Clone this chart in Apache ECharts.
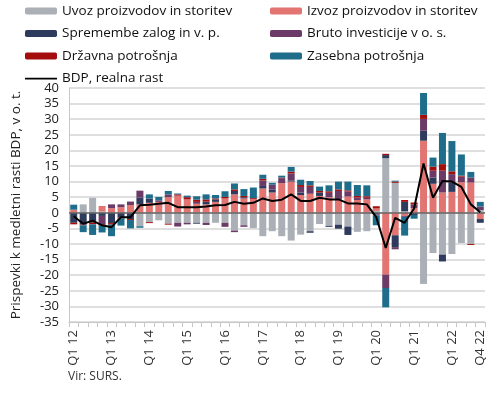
<!DOCTYPE html>
<html><head><meta charset="utf-8">
<script src="https://cdn.jsdelivr.net/npm/echarts@6/dist/echarts.min.js"></script>
<style>html,body{margin:0;padding:0;background:#fff}#c{width:490px;height:394px}</style>
</head><body><div id="c"></div>
<script>
var categories = ["Q1 12","Q2 12","Q3 12","Q4 12","Q1 13","Q2 13","Q3 13","Q4 13","Q1 14","Q2 14","Q3 14","Q4 14",
"Q1 15","Q2 15","Q3 15","Q4 15","Q1 16","Q2 16","Q3 16","Q4 16","Q1 17","Q2 17","Q3 17","Q4 17",
"Q1 18","Q2 18","Q3 18","Q4 18","Q1 19","Q2 19","Q3 19","Q4 19","Q1 20","Q2 20","Q3 20","Q4 20",
"Q1 21","Q2 21","Q3 21","Q4 21","Q1 22","Q2 22","Q3 22","Q4 22"];
var uvoz = [0,2.7,4.8,0.4,0,0,0,-4.3,-3.0,-2.4,-3.5,-3.2,-3.2,-3.2,-3.2,-3.2,-3.2,-5.7,-4.0,-4.9,-7.5,-5.9,-7.5,-8.9,-7.0,-5.9,-3.6,-4.2,-3.8,-4.4,-6.1,-5.9,0.6,17.5,9.6,0.5,0,-22.8,-12.9,-13.4,-13.2,-9.7,-10.0,0.9];
var izvoz = [1.0,0,0,1.8,1.5,1.8,2.5,2.7,3.2,3.5,5.0,5.5,4.3,2.9,2.7,3.5,4.6,5.9,4.6,4.4,7.8,6.5,9.5,10.0,5.7,6.1,5.4,5.0,4.3,5.2,4.1,4.3,0.8,-19.8,-7.2,-1.0,1.5,23.1,9.3,6.5,6.7,9.8,9.7,-2.0];
var zaloge = [-3.2,-3.8,-3.2,-1.0,-3.3,-1.5,-2.0,2.2,1.4,0,0,0,0,-0.3,0.9,0.8,0,1.1,0.4,0,0.8,0.9,0,0.4,0.8,-0.5,1.1,-0.3,-1.3,-2.7,0,0,-0.5,1.0,-3.8,3.0,-0.7,3.2,2.0,-2.2,3.0,0,0,-1.2];
var investicije = [0,0,0,-2.7,1.2,0.9,1.1,2.2,0,0.5,0.9,-1.2,-0.5,0.6,-0.7,0,-1.3,-0.5,-0.5,0,1.8,1.6,1.6,2.2,1.8,2.2,0,1.4,2.7,1.6,0.8,0.5,-0.3,-4.3,-0.7,-0.3,1.2,3.8,2.2,7.0,2.7,1.8,1.6,1.1];
var drzavna = [-0.5,-0.2,-0.5,-0.4,-0.5,-0.3,-0.3,0,-0.3,0,-0.3,0.4,0.7,0.7,0.7,0.3,0.5,0.5,0.4,0.3,0.5,0,0.2,0.6,0.6,0.5,0.5,0.5,0.5,0.4,0.5,0.5,0.7,0.4,0.4,0.6,0.6,1.3,1.3,2.1,0.9,0.3,-0.3,0];
var zasebna = [1.6,-2.2,-3.4,-2.2,-3.7,-2.3,-2.7,-0.5,1.3,1.1,1.1,0.3,0.5,1.1,1.6,1.1,1.8,1.9,2.2,3.4,1.3,0.6,0.6,1.5,1.7,1.4,1.4,1.9,2.5,2.8,3.5,3.5,-3.2,-6.2,0.3,-6.0,-1.2,7.0,2.9,10.0,9.7,6.8,1.8,1.5];
var bdp = [-1.1,-3.5,-2.5,-4.0,-4.6,-1.4,-1.4,2.4,2.6,2.9,3.2,1.8,1.8,1.8,2.0,2.4,2.5,3.5,2.9,3.2,4.6,3.8,4.2,5.9,3.8,3.8,4.8,4.3,4.3,3.0,3.0,2.7,-1.4,-11.3,-1.6,-3.2,1.4,15.8,4.8,10.2,10.0,8.3,2.7,0.2];
var seriesNames = ["Uvoz proizvodov in storitev","Izvoz proizvodov in storitev","Spremembe zalog in v. p.","Bruto investicije v o. s.","Državna potrošnja","Zasebna potrošnja","BDP, realna rast"];
var colors = ["#aab0b6","#e27572","#2f3b5c","#6c3a67","#a50d0d","#1d6d8b","#000000"];
var yTicks = {min:-35, max:40, interval:5};

var FONT = "Open Sans";
var chart = echarts.init(document.getElementById('c'), null, {renderer:'canvas'});
var barData = [uvoz, izvoz, zaloge, investicije, drzavna, zasebna];
var series = barData.map(function(d,k){
  return {name:seriesNames[k], type:'bar', stack:'s', data:d, barCategoryGap:'26%',
    itemStyle:{color:colors[k]}, emphasis:{disabled:true}};
});
series.push({name:seriesNames[6], type:'line', data:bdp, symbol:'none', z:10,
  lineStyle:{color:'#000', width:2}, itemStyle:{color:'#000'},
  markLine:{silent:true, symbol:'none', label:{show:false}, lineStyle:{color:'#666', width:1.5, type:'solid'}, data:[{yAxis:0}]}});
var legText = {fontFamily:FONT, fontSize:13.5, color:'#111'};
var lineIcon = 'path://M0,0L0.01,0L0.01,0.01Z M0,2.7L32,2.7L32,4.5L0,4.5Z M0,7L0.01,7L0.01,7.01Z';
chart.setOption({
  animation:false,
  grid:{left:69, right:5, top:88, bottom:72},
  legend:[
    {data:[seriesNames[0],seriesNames[2],seriesNames[4],{name:seriesNames[6], icon:lineIcon}], orient:'vertical', left:20, top:-1, itemWidth:32, itemHeight:7, itemGap:8.5, textStyle:legText},
    {data:[seriesNames[1],seriesNames[3],seriesNames[5]], orient:'vertical', left:265, top:-1, itemWidth:32, itemHeight:7, itemGap:8.5, textStyle:legText}
  ],
  xAxis:{type:'category', data:categories,
    axisLine:{onZero:false, lineStyle:{color:'#c8c8c8'}},
    axisTick:{show:true, interval:0, length:5, lineStyle:{color:'#c8c8c8'}},
    axisLabel:{rotate:90, interval:function(i){return i%4===0 || i===43;}, fontFamily:FONT, fontSize:13, color:'#333', margin:8}},
  yAxis:{type:'value', min:yTicks.min, max:yTicks.max, interval:yTicks.interval,
    name:'Prispevki k medletni rasti BDP, v o. t.', nameLocation:'middle', nameGap:46,
    nameTextStyle:{fontFamily:FONT, fontSize:13.5, color:'#222'},
    axisLine:{show:true, lineStyle:{color:'#c8c8c8'}},
    axisLabel:{fontFamily:FONT, fontSize:13, color:'#222', margin:10},
    splitLine:{lineStyle:{color:'#d4d4d4', width:1.5}}},
  graphic:[{type:'text', left:68, top:371, style:{text:'Vir: SURS.', font:'12px "Open Sans"', fill:'#333'}}],
  series:series
});
</script></body></html>
